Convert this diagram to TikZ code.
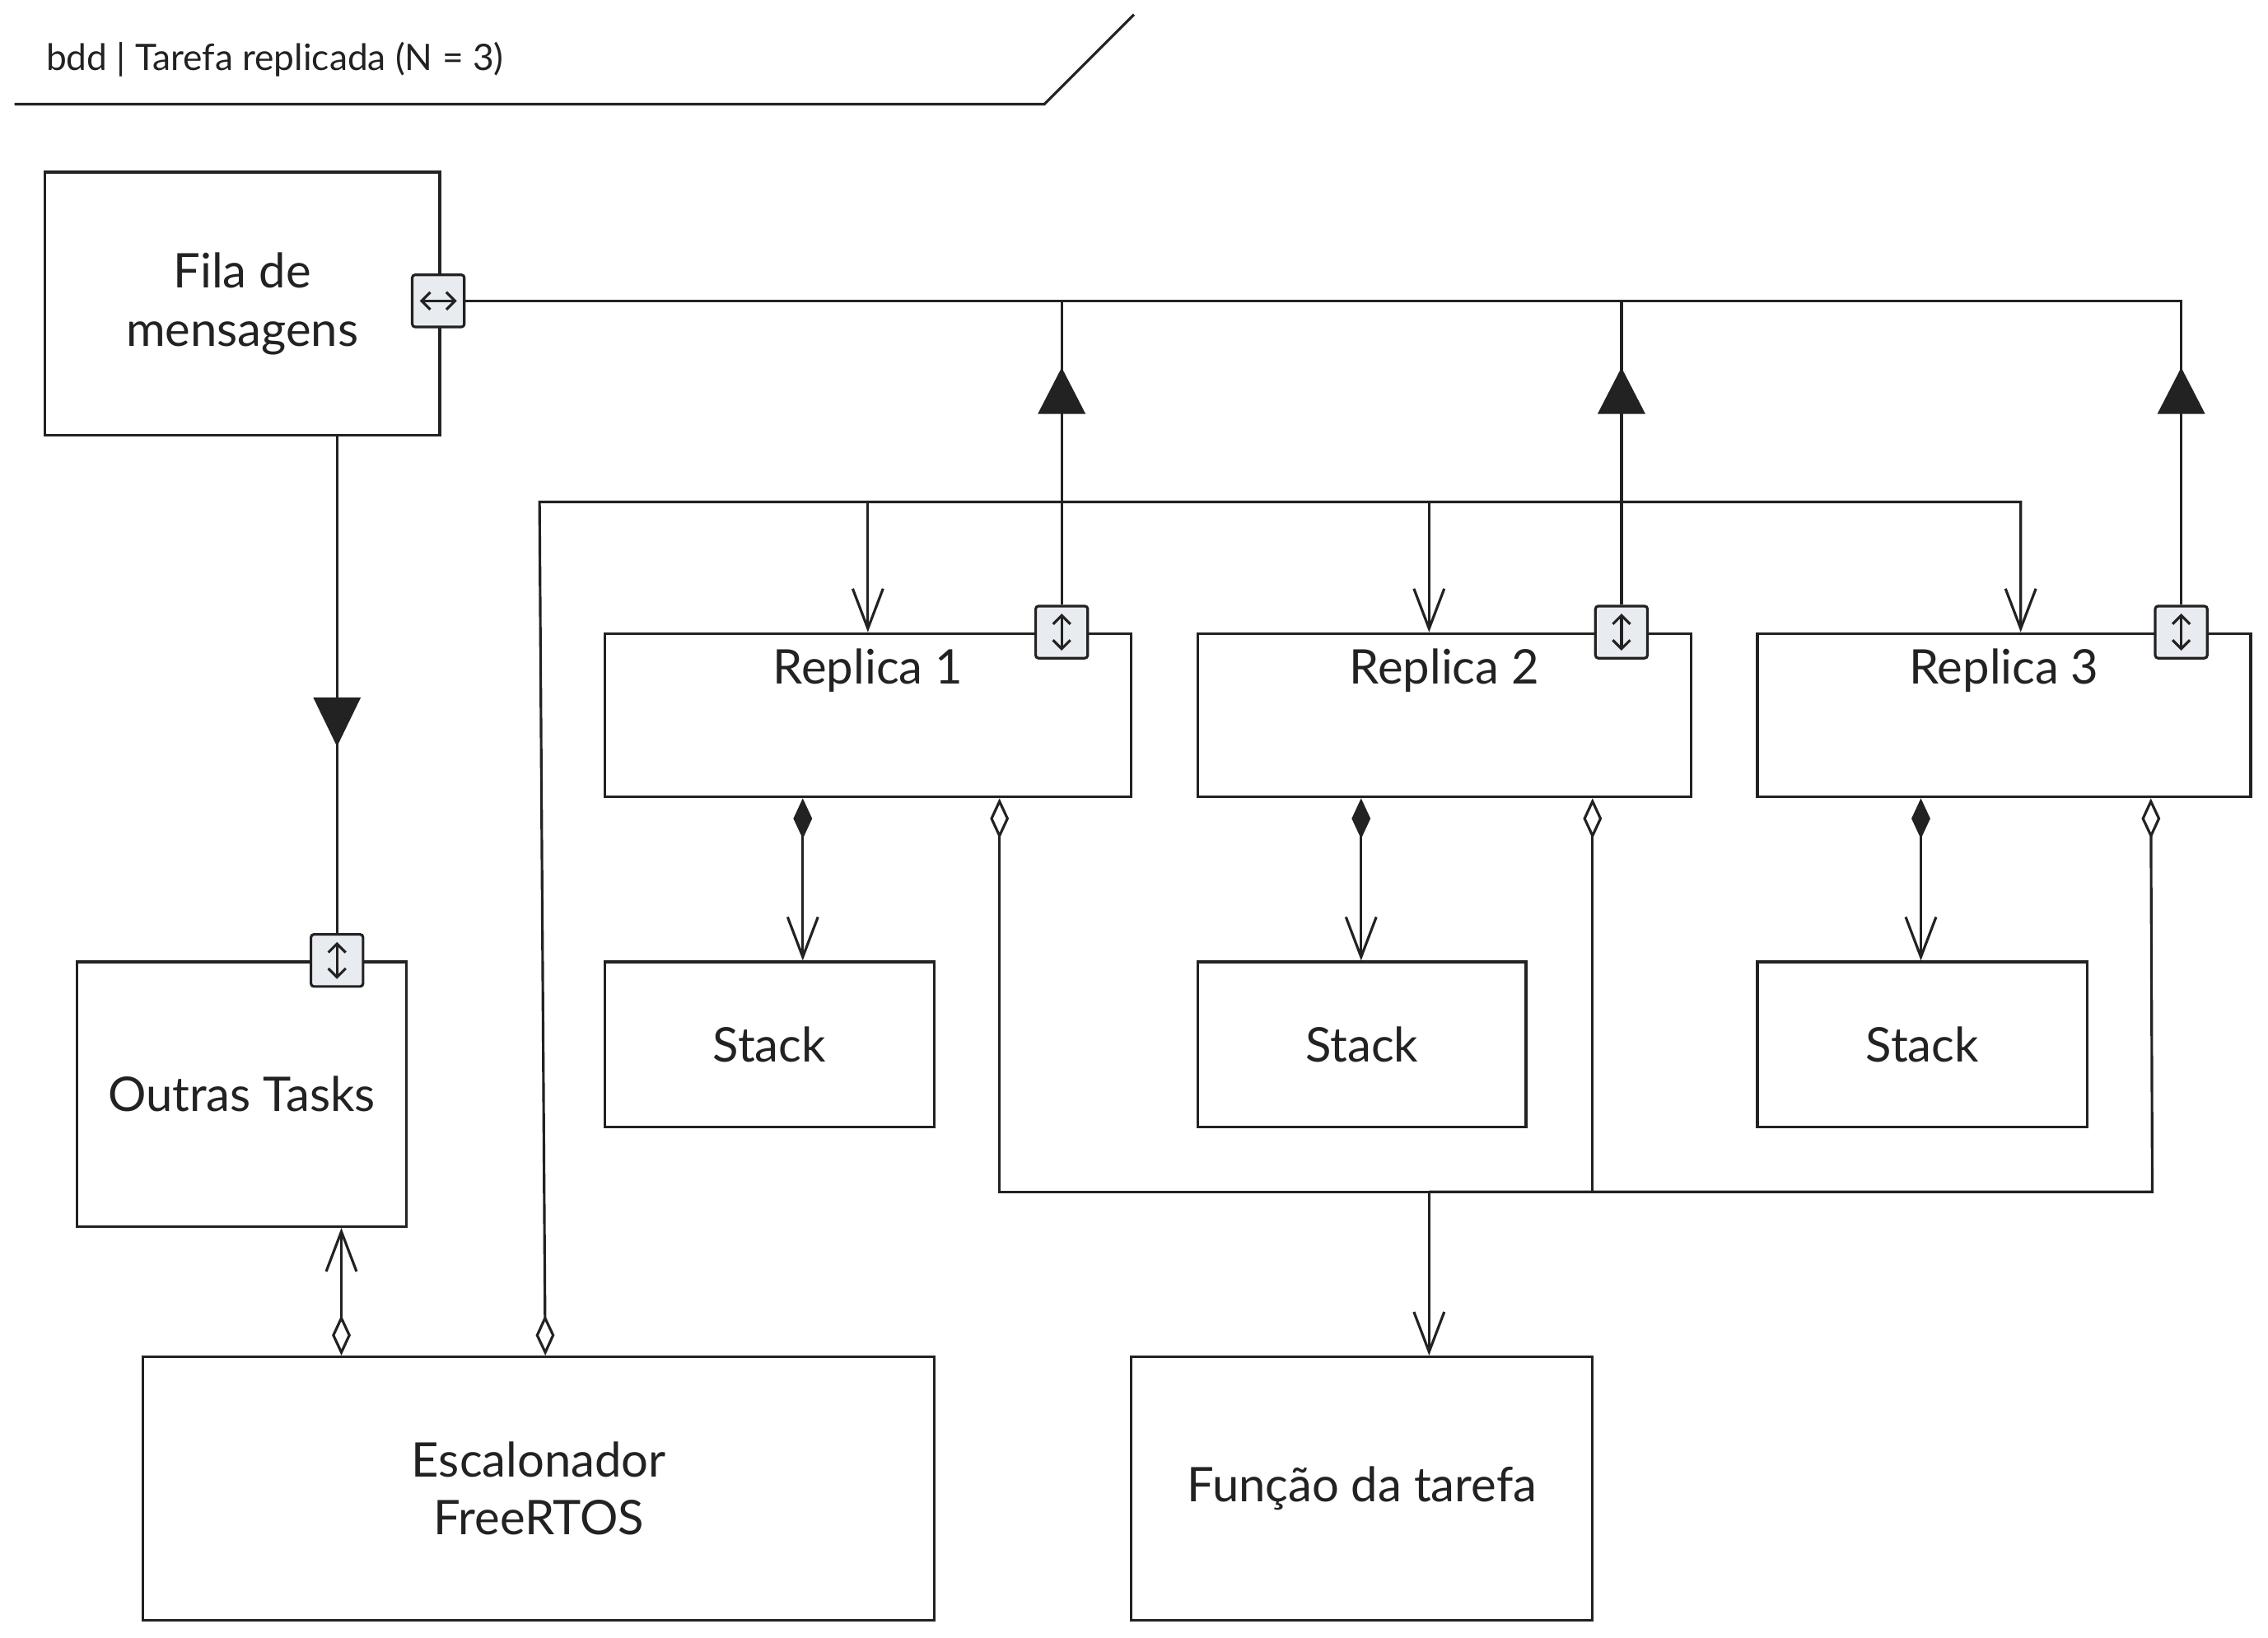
\documentclass[tikz,border=0pt]{standalone}
\usepackage{fontspec}
\setmainfont{Lato}
\usetikzlibrary{arrows.meta,calc}
\definecolor{lc}{HTML}{222222}
\definecolor{portfill}{HTML}{E8EBEF}
\begin{document}
\begin{tikzpicture}[x=0.5pt,y=-0.5pt,
  line width=0.9pt, draw=lc,
  box/.style={draw=lc, line width=0.9pt, inner sep=0pt, font=\fontsize{16.5}{20}\selectfont, align=center, text=lc},
  lbl/.style={font=\fontsize{16.5}{20}\selectfont, text=lc, inner sep=0pt},
  port/.style={draw=lc, fill=portfill, line width=0.9pt, minimum size=18pt, inner sep=0pt, rounded corners=1pt},
  parrow/.style={draw=lc, line width=0.9pt, {Straight Barb[length=3pt,width=6pt]}-{Straight Barb[length=3pt,width=6pt]}},
  conn/.style={draw=lc, line width=0.9pt},
  openarr/.style={conn, -{Straight Barb[length=13.8pt,width=10.5pt]}},
  comp/.style={conn, {Diamond[length=14pt,width=6.5pt]}-{Straight Barb[length=13.8pt,width=10.5pt]}},
  aggr/.style={conn, {Diamond[open,length=14pt,width=6.5pt]}-{Straight Barb[length=13.8pt,width=10.5pt]}},
  aggrline/.style={conn, {Diamond[open,length=14pt,width=6.5pt]}-},
]
\useasboundingbox (0,0) rectangle (1568,1132);

% header
\node[anchor=west, font=\fontsize{12.6}{15}\selectfont, text=lc, inner sep=0pt] (title) at (31,41) {bdd | Tarefa replicada (N = 3)};
\draw[conn] (10,72) -- (722,72) -- (784,10);

% blocks
\node[box, minimum width=136.5pt, minimum height=91pt] (fila) at (167.5,210) {Fila de\\mensagens};
\node[box, minimum width=114pt, minimum height=91.5pt] (outras) at (167,756.5) {Outras Tasks};
\node[box, minimum width=182pt, minimum height=56.5pt] (r1) at (600,494.5) {};
\node[box, minimum width=170.5pt, minimum height=56.5pt] (r2) at (998.5,494.5) {};
\node[box, minimum width=170.5pt, minimum height=56.5pt] (r3) at (1385.5,494.5) {};
\node[lbl, anchor=base] at ($(r1.north)+(0,36)$) {Replica 1};
\node[lbl, anchor=base] at ($(r2.north)+(0,36)$) {Replica 2};
\node[lbl, anchor=base] at ($(r3.north)+(0,36)$) {Replica 3};
\node[box, minimum width=114pt, minimum height=57pt] (s1) at (532,722) {Stack};
\node[box, minimum width=113.5pt, minimum height=57pt] (s2) at (941.5,722) {Stack};
\node[box, minimum width=114pt, minimum height=57pt] (s3) at (1329,722) {Stack};
\node[box, minimum width=273.5pt, minimum height=91pt] (esc) at (372.5,1029) {Escalonador\\FreeRTOS};
\node[box, minimum width=159.5pt, minimum height=91pt] (func) at (941.5,1029) {Função da tarefa};

% ports
\node[port] (pF) at (303,208) {};
\node[port] (pO) at (233,664) {};
\node[port] (p1) at (734,437) {};
\node[port] (p2) at (1121,437) {};
\node[port] (p3) at (1508,437) {};
\draw[parrow] ([xshift=-6.4pt]pF.center) -- ([xshift=6.4pt]pF.center);
\foreach \p in {pO,p1,p2,p3}
  \draw[parrow] ([yshift=6.4pt]\p.center) -- ([yshift=-6.4pt]\p.center);

% message queue connectors
\draw[conn] (pF.east) -| (p1.north);
\draw[conn] (pF.east) -| (p2.north);
\draw[conn] (pF.east) -| (p3.north);
\foreach \p in {p1,p2,p3}
  \fill[lc] ($(\p.north)+(0,-164)$) -- ++(-16.5,32) -- ++(33,0) -- cycle;
\draw[conn] (pO.north |- fila.south) -- (pO.north);
\fill[lc] ($(pO.north)+(0,-129)$) -- ++(-16.5,-34) -- ++(33,0) -- cycle;

% scheduler
\coordinate (bus) at (373,347);
\draw[aggr] (377,0 |- esc.north) -- (bus) -| (1397,0 |- r3.north);
\draw[openarr] (bus -| r1.north) -- (r1.north);
\draw[openarr] (988,0 |- bus) -- (988,0 |- r2.north);
\draw[aggr] (236,0 |- esc.north) -- (236,0 |- outras.south);

% composition to stacks
\draw[comp] (555,0 |- r1.south) -- (555,0 |- s1.north);
\draw[comp] (941,0 |- r2.south) -- (941,0 |- s2.north);
\draw[comp] (1328,0 |- r3.south) -- (1328,0 |- s3.north);

% aggregation to task function
\coordinate (fbus) at (988,824);
\draw[aggr] (691,0 |- r1.south) |- (fbus) -- (fbus |- func.north);
\draw[aggrline] (1101,0 |- r2.south) -- (1101,0 |- fbus);
\draw[aggrline] (1487,0 |- r3.south) -- (1488,0 |- fbus) -- (fbus);
\end{tikzpicture}
\end{document}
